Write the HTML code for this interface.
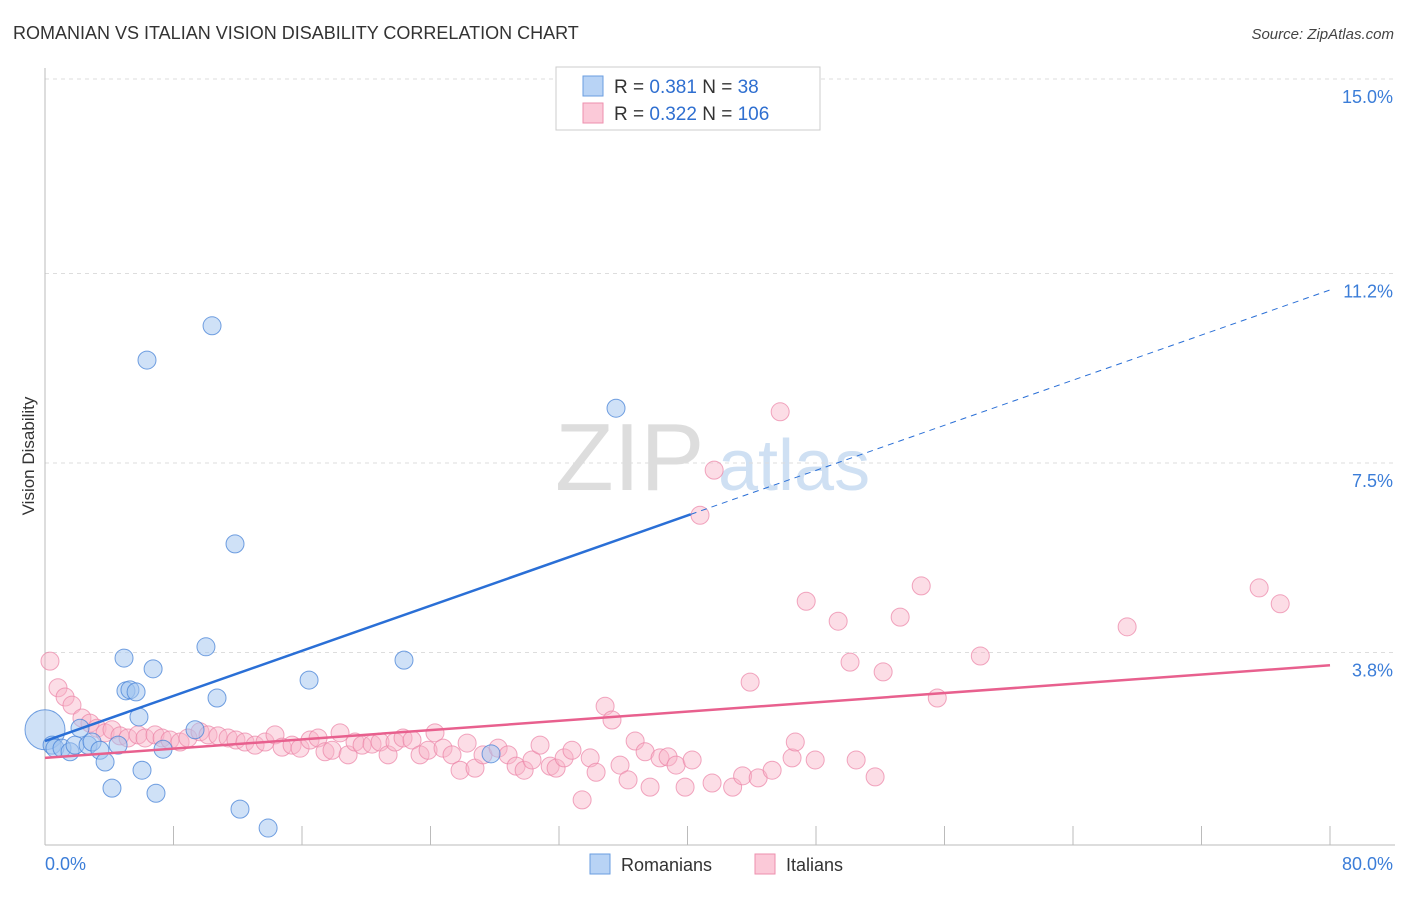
<!DOCTYPE html>
<html><head><meta charset="utf-8"><style>
body{margin:0;background:#fff;font-family:"Liberation Sans",sans-serif;}
svg text{font-family:"Liberation Sans",sans-serif;}
</style></head><body>
<svg id="chart" width="1406" height="892" xmlns="http://www.w3.org/2000/svg">
<text x="13" y="39" font-size="18" fill="#333">ROMANIAN VS ITALIAN VISION DISABILITY CORRELATION CHART</text>
<text x="1394" y="39" font-size="15" fill="#444" text-anchor="end" font-style="italic">Source: ZipAtlas.com</text>
<g>
<text x="555" y="490" font-size="96" fill="#ddd" font-family="Liberation Serif,serif">ZIP</text>
<text x="718" y="490" font-size="72" fill="#cfe0f3">atlas</text>
</g>
<g id="grid"></g>
<line x1="45" y1="68" x2="45" y2="845" stroke="#bbb"/>
<line x1="45" y1="845" x2="1395" y2="845" stroke="#bbb"/>
<text transform="translate(34,456) rotate(-90)" font-size="17" fill="#333" text-anchor="middle">Vision Disability</text>
<text x="45" y="870" font-size="18" fill="#3b7dd8">0.0%</text>
<text x="1393" y="870" font-size="18" fill="#3b7dd8" text-anchor="end">80.0%</text>
<g id="marks"></g>
<g>
<rect x="556" y="67" width="264" height="63" fill="#fff" stroke="#ccc"/>
<rect x="583" y="76" width="20" height="20" fill="#b8d3f5" stroke="#6a9ee0"/>
<rect x="583" y="103" width="20" height="20" fill="#fbc9d8" stroke="#ee8fae"/>
<text x="614" y="93" font-size="19" fill="#333">R = <tspan fill="#2f6fd0">0.381</tspan>   N = <tspan fill="#2f6fd0">  38</tspan></text>
<text x="614" y="120" font-size="19" fill="#333">R = <tspan fill="#2f6fd0">0.322</tspan>   N = <tspan fill="#2f6fd0">106</tspan></text>
</g>
<g>
<rect x="590" y="854" width="20" height="20" fill="#b8d3f5" stroke="#6a9ee0"/>
<text x="621" y="871" font-size="18" fill="#333">Romanians</text>
<rect x="755" y="854" width="20" height="20" fill="#fbc9d8" stroke="#ee8fae"/>
<text x="786" y="871" font-size="18" fill="#333">Italians</text>
</g>
</svg>
<script>
const yTicks=[3.8,7.5,11.2,15.0];
const yTickLabels=["3.8%","7.5%","11.2%","15.0%"];
const romX=[0,0.44,0.62,1.06,1.56,1.87,2.18,2.68,2.93,3.42,3.74,4.17,4.55,4.92,5.04,5.29,5.67,5.85,6.04,6.35,6.73,6.91,7.35,9.34,10.02,10.40,10.71,11.83,12.14,13.89,16.44,22.35,27.77,35.55];
const romY=[2.29,1.99,1.93,1.93,1.86,1.99,2.32,1.99,2.05,1.89,1.66,1.15,1.99,3.69,3.05,3.07,3.03,2.54,1.50,9.51,3.48,1.05,1.91,2.29,3.91,10.18,2.91,5.92,0.74,0.37,3.26,3.65,1.82,8.57];
const itaX=[0.31,0.81,1.25,1.68,2.30,2.80,3.24,3.74,4.17,4.67,5.17,5.79,6.23,6.85,7.29,7.78,8.41,8.90,9.65,10.15,10.77,11.40,11.89,12.45,13.08,13.70,14.32,14.76,15.38,15.88,16.50,17.00,17.43,17.87,18.37,18.87,19.30,19.74,20.36,20.86,21.36,21.79,22.29,22.85,23.35,23.85,24.28,24.78,25.34,25.84,26.28,26.77,27.27,28.21,28.83,29.33,29.83,30.32,30.82,31.45,31.82,32.32,32.81,33.44,33.94,34.31,34.87,35.30,35.80,36.30,36.74,37.36,37.67,38.29,38.79,39.29,39.85,40.29,40.78,41.53,41.66,42.81,43.43,43.90,44.40,45.27,45.77,46.51,46.71,47.39,47.95,49.38,50.12,50.50,51.68,52.18,53.24,54.55,55.55,58.23,67.37,75.59,76.90];
const itaY=[3.63,3.11,2.93,2.77,2.52,2.42,2.32,2.23,2.29,2.17,2.13,2.19,2.13,2.19,2.13,2.09,2.05,2.13,2.25,2.19,2.17,2.13,2.09,2.05,1.99,2.05,2.19,1.95,1.99,1.93,2.09,2.13,1.86,1.89,2.23,1.80,2.05,1.99,2.01,2.05,1.80,2.05,2.13,2.09,1.80,1.89,2.23,1.93,1.80,1.50,2.03,1.54,1.80,1.93,1.80,1.58,1.50,1.70,1.99,1.58,1.54,1.74,1.89,0.92,1.74,1.46,2.75,2.48,1.60,1.31,2.07,1.86,1.17,1.74,1.76,1.60,1.17,1.70,6.48,1.25,7.36,1.17,1.39,3.22,1.35,1.50,8.50,1.74,2.05,4.80,1.70,4.41,3.61,1.70,1.37,3.42,4.49,5.10,2.91,3.73,4.30,5.06,4.75];
const romTrend=[2.07,10.88];
const itaTrend=[1.74,3.55];
const sx=v=>45+v/80*1285;
const sy=v=>847-v*51.2;
const NS="http://www.w3.org/2000/svg";
function mk(t,a,p){const e=document.createElementNS(NS,t);for(const k in a)e.setAttribute(k,a[k]);p.appendChild(e);return e;}
const grid=document.getElementById('grid'),marks=document.getElementById('marks');
yTicks.forEach((v,i)=>{
 const l=mk('line',{x1:45,x2:1395,y1:sy(v),y2:sy(v),stroke:'#ddd','stroke-dasharray':'4,4'},grid);
 
 
 const t=mk('text',{x:1393,y:sy(v)+24,'font-size':18,fill:'#3b7dd8','text-anchor':'end'},grid);
 t.textContent=yTickLabels[i];
 
 
});
for(let i=0;i<=10;i++){
 const l=mk('line',{x1:sx(i*8),x2:sx(i*8),y1:826,y2:845,stroke:'#bbb'},grid);
 
 
}
itaX.forEach((x,i)=>{
 const c=mk('circle',{cx:sx(x),cy:sy(itaY[i]),r:9,fill:'rgba(248,180,200,0.45)',stroke:'rgba(235,130,165,0.7)'},marks);
 
 
});
romX.forEach((x,i)=>{
 const c=mk('circle',{cx:sx(x),cy:sy(romY[i]),r:i===0?20:9,fill:'rgba(160,195,240,0.5)',stroke:'rgba(70,130,215,0.75)'},marks);
 
 
});
const ry=x=>romTrend[0]+(romTrend[1]-romTrend[0])*x/80;
let l1=mk('line',{x1:sx(0),y1:sy(ry(0)),x2:sx(40.2),y2:sy(ry(40.2)),stroke:'#2a6fd6','stroke-width':2.5},marks);


let l2=mk('line',{x1:sx(40.2),y1:sy(ry(40.2)),x2:sx(80),y2:sy(ry(80)),stroke:'#2a6fd6','stroke-width':1,'stroke-dasharray':'6,5'},marks);


let l3=mk('line',{x1:sx(0),y1:sy(itaTrend[0]),x2:sx(80),y2:sy(itaTrend[1]),stroke:'#e8608e','stroke-width':2.5},marks);


</script>
</body></html>
